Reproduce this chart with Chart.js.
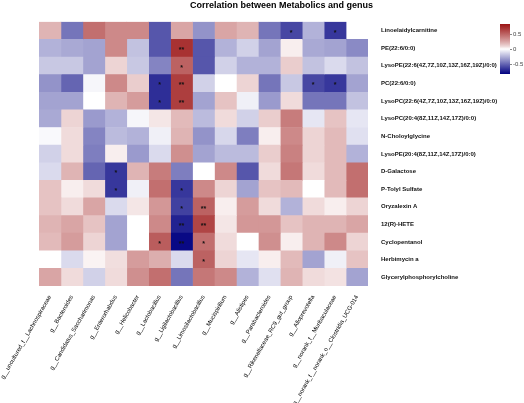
<!DOCTYPE html>
<html>
<head>
<meta charset="utf-8">
<script src="https://cdn.jsdelivr.net/npm/chart.js@4.4.0/dist/chart.umd.min.js"></script>
<style>
  html, body { margin: 0; padding: 0; background: #fff; }
  #wrap { width: 524px; height: 403px; }
</style>
</head>
<body>
<div id="wrap"><canvas id="heat" width="524" height="403"></canvas></div>
<script>
// rows (metabolites), top to bottom
const metabolites = [
    "Linoelaidylcarnitine",
    "PE(22:6/0:0)",
    "LysoPE(22:6(4Z,7Z,10Z,13Z,16Z,19Z)/0:0)",
    "PC(22:6/0:0)",
    "LysoPC(22:6(4Z,7Z,10Z,13Z,16Z,19Z)/0:0)",
    "LysoPC(20:4(8Z,11Z,14Z,17Z)/0:0)",
    "N-Choloylglycine",
    "LysoPE(20:4(8Z,11Z,14Z,17Z)/0:0)",
    "D-Galactose",
    "P-Tolyl Sulfate",
    "Oryzalexin A",
    "12(R)-HETE",
    "Cyclopentanol",
    "Herbimycin a",
    "Glycerylphosphorylcholine"
];

// columns (genus), left to right
const genera = [
    "g__uncultured_f__Lachnospiraceae",
    "g__Bacteroides",
    "g__Candidatus_Saccharimonas",
    "g__Enterorhabdus",
    "g__Helicobacter",
    "g__Lactobacillus",
    "g__Ligilactobacillus",
    "g__Limosilactobacillus",
    "g__Mucispirillum",
    "g__Alistipes",
    "g__Parabacteroides",
    "g__Rikenellaceae_RC9_gut_group",
    "g__Alloprevotella",
    "g__norank_f__Muribaculaceae",
    "g__norank_f__norank_o__Clostridia_UCG-014"
];

// correlation values, one row per metabolite
const corr = [
    [0.2, -0.45, 0.45, 0.35, 0.35, -0.55, 0.25, -0.35, 0.25, 0.2, -0.45, -0.6, -0.25, -0.65, 0.0],
    [-0.25, -0.28, -0.3, 0.35, -0.2, -0.55, 0.7, -0.55, -0.25, -0.15, -0.3, 0.03, -0.28, -0.3, -0.38],
    [-0.18, -0.18, -0.3, 0.1, -0.18, -0.4, 0.5, -0.55, -0.15, -0.25, -0.25, 0.12, -0.2, -0.12, -0.2],
    [-0.35, -0.5, -0.03, 0.35, 0.12, -0.68, 0.65, -0.15, 0.0, 0.1, -0.45, -0.18, -0.6, -0.65, -0.3],
    [-0.3, -0.3, 0.0, 0.2, 0.28, -0.68, 0.65, -0.3, 0.15, -0.05, -0.33, 0.08, -0.45, -0.45, -0.2],
    [-0.28, 0.1, -0.33, -0.25, -0.03, 0.05, 0.18, -0.22, 0.08, -0.15, 0.12, 0.4, -0.08, 0.15, -0.08],
    [-0.02, 0.08, -0.4, -0.22, -0.25, -0.05, 0.2, -0.35, -0.13, -0.42, 0.03, 0.35, 0.1, 0.18, -0.1],
    [-0.15, 0.08, -0.42, 0.03, -0.33, -0.12, 0.33, -0.3, -0.22, -0.22, 0.12, 0.38, 0.1, 0.18, -0.25],
    [-0.12, 0.2, -0.5, -0.65, 0.2, 0.4, -0.42, 0.0, 0.35, -0.55, 0.08, 0.42, 0.08, 0.18, 0.45],
    [0.15, 0.03, 0.08, -0.65, -0.05, 0.45, -0.65, 0.35, 0.1, -0.3, 0.15, 0.18, 0.0, 0.18, 0.45],
    [0.15, 0.08, 0.25, -0.12, 0.05, 0.3, -0.62, 0.5, 0.03, 0.28, 0.08, -0.25, 0.08, 0.03, 0.1],
    [0.2, 0.25, 0.15, -0.3, 0.0, 0.35, -0.72, 0.62, 0.05, 0.3, 0.3, 0.15, 0.2, 0.2, 0.25],
    [0.18, 0.28, 0.1, -0.3, 0.0, 0.52, -0.8, 0.45, 0.08, 0.0, 0.33, 0.03, 0.2, 0.35, 0.1],
    [0.0, -0.12, 0.02, 0.07, 0.28, 0.22, -0.12, 0.5, 0.1, -0.08, 0.03, 0.18, -0.3, -0.05, 0.15],
    [0.25, 0.08, -0.15, 0.08, 0.33, 0.45, -0.45, 0.42, 0.35, -0.25, -0.1, 0.2, 0.08, 0.06, -0.3]
];

// significance marks: [row, column, mark]
const sigMarks = [
    [0, 11, "*"], [0, 13, "*"],
    [1, 6, "**"],
    [2, 6, "*"],
    [3, 5, "*"], [3, 6, "**"], [3, 12, "*"], [3, 13, "*"],
    [4, 5, "*"], [4, 6, "**"],
    [8, 3, "*"],
    [9, 3, "*"], [9, 6, "*"],
    [10, 6, "*"], [10, 7, "**"],
    [11, 6, "**"], [11, 7, "**"],
    [12, 5, "*"], [12, 6, "**"], [12, 7, "*"],
    [13, 7, "*"]
];

const legendTicks = [0.5, 0, -0.5];
const scaleMax = 0.83;

const FONT = "'Liberation Sans', Arial, sans-serif";

function corrColor(v) {
    let t = Math.max(-1, Math.min(1, v / scaleMax));
    let end = [0, 0, 128];
    if (t > 0) {
        end = [155, 20, 20];
        t = Math.pow(t, 0.8);   // reds look heavier than a plain ramp
    }
    t = Math.abs(t);
    const c = end.map(e => Math.round(255 + (e - 255) * t));
    return `rgb(${c[0]},${c[1]},${c[2]})`;
}

const starPlugin = {
    id: "stars",
    afterDatasetsDraw(chart) {
        const ctx = chart.ctx;
        ctx.save();
        ctx.fillStyle = "#111";
        ctx.font = `bold 7px ${FONT}`;
        ctx.textAlign = "center";
        ctx.textBaseline = "middle";
        sigMarks.forEach(([r, c, mark]) => {
            const el = chart.getDatasetMeta(c).data[r];
            ctx.fillText(mark, (el.x + el.base) / 2, el.y + 2);
        });
        ctx.restore();
    }
};

const colorbarPlugin = {
    id: "colorbar",
    afterDraw(chart) {
        const ctx = chart.ctx;
        const x0 = 500, w = 10, y0 = 24, h = 50;
        const grad = ctx.createLinearGradient(0, y0, 0, y0 + h);
        for (let i = 0; i <= 20; i++) {
            const v = scaleMax - (2 * scaleMax * i) / 20;
            grad.addColorStop(i / 20, corrColor(v));
        }
        ctx.save();
        ctx.fillStyle = grad;
        ctx.fillRect(x0, y0, w, h);
        ctx.strokeStyle = "#888";
        ctx.lineWidth = 1;
        ctx.fillStyle = "#444";
        ctx.font = `6px ${FONT}`;
        ctx.textAlign = "left";
        ctx.textBaseline = "middle";
        legendTicks.forEach(v => {
            const y = y0 + ((scaleMax - v) / (2 * scaleMax)) * h;
            ctx.beginPath();
            ctx.moveTo(x0 + w, Math.round(y) + 0.5);
            ctx.lineTo(x0 + w + 2, Math.round(y) + 0.5);
            ctx.stroke();
            ctx.fillText(String(v), x0 + w + 3, y);
        });
        ctx.restore();
    }
};

const datasets = genera.map((g, c) => ({
    label: g,
    data: metabolites.map(() => 1),
    backgroundColor: metabolites.map((m, r) => corrColor(corr[r][c])),
    borderWidth: 0,
    barPercentage: 1,
    categoryPercentage: 1
}));

new Chart(document.getElementById("heat"), {
    type: "bar",
    data: { labels: metabolites, datasets: datasets },
    options: {
        indexAxis: "y",
        responsive: false,
        animation: false,
        layout: { padding: { left: 39, top: 0, right: 0, bottom: 0 } },
        plugins: {
            legend: { display: false },
            tooltip: { enabled: false },
            title: {
                display: true,
                text: "Correlation between Metabolics and genus",
                color: "#000",
                font: { family: FONT, size: 9, weight: "bold" },
                padding: { top: 0, bottom: 11 }
            }
        },
        scales: {
            x: { stacked: true, min: 0, max: genera.length, display: false },
            xg: {
                type: "category",
                labels: genera,
                position: "bottom",
                offset: true,
                grid: { display: false },
                border: { display: false },
                ticks: {
                    autoSkip: false,
                    minRotation: 60,
                    maxRotation: 60,
                    padding: 0,
                    color: "#000",
                    font: { family: FONT, size: 6 }
                },
                afterFit: (s) => { s.height = 117; }
            },
            y: {
                stacked: true,
                position: "right",
                grid: { display: false },
                border: { display: false },
                ticks: {
                    padding: 5,
                    color: "#111",
                    font: { family: FONT, size: 6, weight: "bold" }
                },
                afterFit: (s) => { s.width = 156; }
            }
        }
    },
    plugins: [starPlugin, colorbarPlugin]
});
</script>
</body>
</html>
